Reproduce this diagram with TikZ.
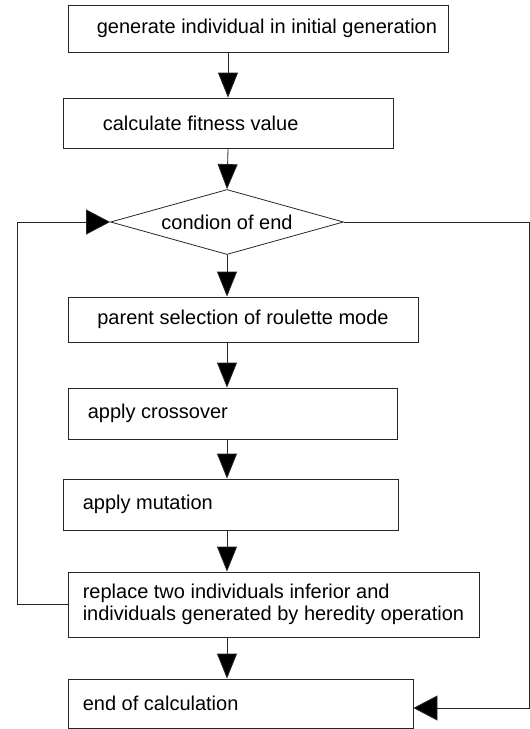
\documentclass[tikz,border=0pt]{standalone}
\usepackage{fontspec}
\setmainfont{Liberation Sans}
\usetikzlibrary{arrows.meta,shapes.geometric}

\tikzset{
    stepbox/.style={draw=black!85, line width=0.8pt, inner sep=0pt},
    steptext/.style={anchor=west, align=left, inner sep=0pt,
        font=\fontsize{20}{21.5}\selectfont},
    flow/.style={draw=black!85, line width=0.8pt,
        -{Triangle[length=25pt,width=20pt,fill=black]}},
    sideflow/.style={draw=black!85, line width=0.8pt,
        -{Triangle[length=24pt,width=25pt,fill=black]}}
}

\begin{document}
\begin{tikzpicture}[x=1pt,y=-1pt]
        \useasboundingbox (0,0) rectangle (530,729);

        \coordinate (spine) at (228,0);
        \coordinate (leftrail) at (17,0);
        \coordinate (rightrail) at (529.5,0);

        \node[stepbox, minimum width=380, minimum height=47] (gen) at (258,28.5) {};
        \node[steptext] (gentxt) at ([xshift=29pt]gen.west) {generate individual in initial generation};

        \node[stepbox, minimum width=330, minimum height=50] (fit) at (228,123) {};
        \node[steptext] (fittxt) at ([xshift=40pt]fit.west) {calculate fitness value};

        \node[stepbox, diamond, aspect=3.6, minimum width=233, minimum height=65,
              font=\fontsize{20}{21.5}\selectfont] (cond) at (227,222) {condion of end};

        \node[stepbox, minimum width=350, minimum height=45,
              font=\fontsize{20}{21.5}\selectfont] (sel) at (243,319.5) {parent selection of roulette mode};

        \node[stepbox, minimum width=329, minimum height=51] (cross) at (232.5,413.5) {};
        \node[steptext] (crosstxt) at ([xshift=20pt]cross.west) {apply crossover};

        \node[stepbox, minimum width=335, minimum height=51] (mut) at (230.5,504.5) {};
        \node[steptext] (muttxt) at ([xshift=20pt]mut.west) {apply mutation};

        \node[stepbox, minimum width=411, minimum height=65] (repl) at (273.5,604.5) {};
        \node[steptext] (repltxt) at ([xshift=15pt]repl.west) {replace two individuals inferior and\\individuals generated by heredity operation};

        \node[stepbox, minimum width=345, minimum height=49] (endc) at (240.5,703.5) {};
        \node[steptext] (endctxt) at ([xshift=15pt]endc.west) {end of calculation};

        % main line
        \draw[flow] (gen.south -| spine) -- (fit.north -| spine);
        \draw[flow] (fit.south -| spine) -- (cond.north);
        \draw[flow] (cond.south) -- (sel.north -| cond.south);
        \draw[flow] (sel.south -| cond.south) -- (cross.north -| cond.south);
        \draw[flow] (cross.south -| cond.south) -- (mut.north -| cond.south);
        \draw[flow] (mut.south -| cond.south) -- (repl.north -| cond.south);
        \draw[flow] (repl.south -| cond.south) -- (endc.north -| cond.south);

        % loops
        \draw[sideflow] (repl.west) -- (repl.west -| leftrail) |- (cond.west);
        \draw[sideflow] (cond.east) -- (cond.east -| rightrail) -- ([yshift=-4.5pt]rightrail |- endc.east) -- ([yshift=-4.5pt]endc.east);
    \end{tikzpicture}
\end{document}
